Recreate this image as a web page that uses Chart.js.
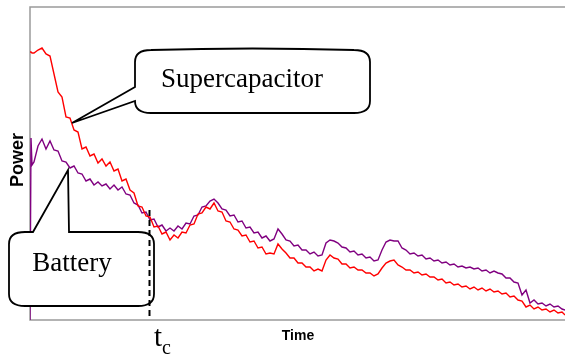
<!DOCTYPE html>
<html><head><meta charset="utf-8">
<script src="https://cdn.jsdelivr.net/npm/chart.js@4.4.1/dist/chart.umd.min.js"></script>
<style>html,body{margin:0;padding:0;background:#fff;}#wrap{width:565px;height:354px;}</style>
</head><body>
<div id="wrap"><canvas id="c" width="565" height="354"></canvas></div>
<script>
// Time samples (arbitrary units)
const time = [0,1,2,
4,8,12,16,20,24,28,32,36,40,
44,48,52,56,60,64,68,72,76,80,
84,88,92,96,100,104,108,112,116,120,
124,128,132,136,140,144,148,152,156,160,
164,168,172,176,180,184,188,192,196,200,
204,208,212,216,220,224,228,232,236,240,
244,248,252,256,260,264,268,272,276,280,
284,288,292,296,300,304,308,312,316,320,
324,328,332,336,340,344,348,352,356,360,
364,368,372,376,380,384,388,392,396,400,
404,408,412,416,420,424,428,432,436,440,
444,448,452,456,460,464,468,472,476,480,
484,488,492,496,500,504,508,512,516,520,
524,528,532,535];

// Supercapacitor power (red)
const supercapacitorPower = [268,268,267,
267,270,272,266,264,246,228,223,203,202,
190,188,171,173,164,166,157,161,154,158,
149,151,139,141,130,127,114,113,104,103,
93,94,86,88,80,85,82,88,87,95,
96,106,107,113,111,117,109,108,99,98,
91,90,84,85,78,79,72,73,66,67,
66,76,71,67,62,62,57,57,53,53,
49,51,49,60,65,62,61,56,56,52,
53,50,50,47,47,44,46,52,57,59,
60,55,53,50,50,47,48,45,46,43,
43,40,41,37,38,35,36,33,34,31,
33,30,32,29,31,28,29,26,27,23,
24,20,19,13,15,11,13,10,11,8,
10,7,8,5];

// Battery power (purple)
const batteryPower = [0,182,155,
158,174,181,171,179,170,169,159,158,152,
154,147,146,139,141,135,138,134,136,131,
135,130,133,126,125,117,115,107,108,100,
101,93,95,89,92,89,94,91,97,96,
104,105,113,114,119,121,117,111,110,104,
105,98,99,92,93,87,88,82,84,79,
81,91,86,80,79,74,75,70,70,66,
68,64,65,77,80,79,77,73,72,68,
69,65,66,62,63,59,60,70,78,80,
79,79,72,70,66,67,64,65,61,62,
59,60,57,58,55,56,53,54,52,53,
51,52,49,50,47,49,47,46,42,42,
38,37,25,30,17,20,16,17,14,16,
13,14,11,10];

const timeMax = 535;
const powerMax = 313;
const tcTime = 119;          // switching instant t_c
const superPointer = [42, 197];   // (time, power) the supercapacitor callout points at
const batteryPointer = [38, 150]; // (time, power) the battery callout points at
const seriesNames = ['Supercapacitor', 'Battery'];
const xTitle = 'Time';
const yTitle = 'Power';

const toXY = (ts, vs) => ts.map((t, i) => ({x: t, y: vs[i]}));

const AXIS = '#9a9a9a';

const frame = {
  id: 'frame',
  beforeDatasetsDraw(chart) {
    const {ctx, chartArea: a} = chart;
    ctx.save();
    ctx.strokeStyle = AXIS; ctx.lineWidth = 1.5;
    ctx.beginPath();
    ctx.moveTo(chart.width, a.top); ctx.lineTo(a.left, a.top);
    ctx.lineTo(a.left, a.bottom); ctx.lineTo(chart.width, a.bottom);
    ctx.stroke();
    ctx.restore();
  }
};

const decor = {
  id: 'decor',
  afterDraw(chart) {
    const {ctx, chartArea: a, scales: {x, y}} = chart;
    ctx.save();

    // axis titles
    ctx.fillStyle = '#000';
    ctx.font = 'bold 14px "Liberation Sans", Arial, sans-serif';
    ctx.textAlign = 'center'; ctx.textBaseline = 'alphabetic';
    ctx.fillText(xTitle, 298, 340);
    ctx.save();
    ctx.translate(23, 160); ctx.rotate(-Math.PI / 2);
    ctx.font = 'bold 18px "Liberation Sans", Arial, sans-serif';
    ctx.fillText(yTitle, 0, 0);
    ctx.restore();

    // Supercapacitor callout
    const rx = 16, ry = 12;
    ctx.lineWidth = 1.8; ctx.strokeStyle = '#000'; ctx.fillStyle = '#fff';
    let L = 135, T = 50, R = 370, B = 113;
    let tx = x.getPixelForValue(superPointer[0]), ty = y.getPixelForValue(superPointer[1]);
    ctx.beginPath();
    ctx.moveTo(L + rx, T);
    ctx.quadraticCurveTo((L + R) / 2, T - 3, R - rx, T);
    ctx.quadraticCurveTo(R, T, R, T + ry);
    ctx.lineTo(R, B - ry);
    ctx.quadraticCurveTo(R, B, R - rx, B);
    ctx.lineTo(L + rx, B);
    ctx.quadraticCurveTo(L, B, L, B - ry);
    ctx.lineTo(tx, ty);
    ctx.lineTo(L, 87);
    ctx.lineTo(L, T + ry);
    ctx.quadraticCurveTo(L, T, L + rx, T);
    ctx.closePath();
    ctx.fill(); ctx.stroke();

    // Battery callout
    L = 9; T = 232; R = 154; B = 306;
    tx = x.getPixelForValue(batteryPointer[0]); ty = y.getPixelForValue(batteryPointer[1]);
    ctx.beginPath();
    ctx.moveTo(L + rx, T);
    ctx.lineTo(33, T);
    ctx.lineTo(tx, ty);
    ctx.lineTo(tx + 1, T);
    ctx.lineTo(R - rx, T);
    ctx.quadraticCurveTo(R, T, R, T + ry);
    ctx.lineTo(R, B - ry);
    ctx.quadraticCurveTo(R, B, R - rx, B);
    ctx.lineTo(L + rx, B);
    ctx.quadraticCurveTo(L, B, L, B - ry);
    ctx.lineTo(L, T + ry);
    ctx.quadraticCurveTo(L, T, L + rx, T);
    ctx.closePath();
    ctx.fill(); ctx.stroke();

    // callout texts
    ctx.fillStyle = '#000';
    ctx.font = '27px "Liberation Serif", "Times New Roman", serif';
    ctx.textAlign = 'center';
    ctx.fillText(seriesNames[0], 242, 87);
    ctx.fillText(seriesNames[1], 72, 271);

    // t_c dashed marker
    const px = Math.round(x.getPixelForValue(tcTime)) + 0.5;
    ctx.setLineDash([6, 4]); ctx.lineWidth = 2;
    ctx.beginPath(); ctx.moveTo(px, 210); ctx.lineTo(px, a.bottom - 2); ctx.stroke();
    ctx.setLineDash([]);

    // t_c label
    ctx.textAlign = 'left';
    ctx.font = '29px "Liberation Serif", "Times New Roman", serif';
    ctx.fillText('t', 154, 346);
    ctx.font = '20px "Liberation Serif", "Times New Roman", serif';
    ctx.fillText('c', 162, 354);
    ctx.restore();
  }
};

new Chart(document.getElementById('c'), {
  type: 'line',
  data: {
    datasets: [
      {label: seriesNames[0], data: toXY(time, supercapacitorPower), borderColor: '#ff0000', borderWidth: 1.4, pointRadius: 0, tension: 0, fill: false},
      {label: seriesNames[1], data: toXY(time, batteryPower), borderColor: '#800080', borderWidth: 1.4, pointRadius: 0, tension: 0, fill: false}
    ]
  },
  options: {
    responsive: false, animation: false, devicePixelRatio: 1,
    layout: {padding: {top: 7, right: 0, left: 0, bottom: 0}},
    plugins: {legend: {display: false}, tooltip: {enabled: false}},
    scales: {
      x: {type: 'linear', min: 0, max: timeMax, ticks: {display: false}, grid: {display: false, drawTicks: false},
          border: {display: false}, afterFit: s => { s.height = 34; }},
      y: {type: 'linear', min: 0, max: powerMax, ticks: {display: false}, grid: {display: false, drawTicks: false},
          border: {display: false}, afterFit: s => { s.width = 30; }}
    }
  },
  plugins: [frame, decor]
});
</script>
</body></html>
